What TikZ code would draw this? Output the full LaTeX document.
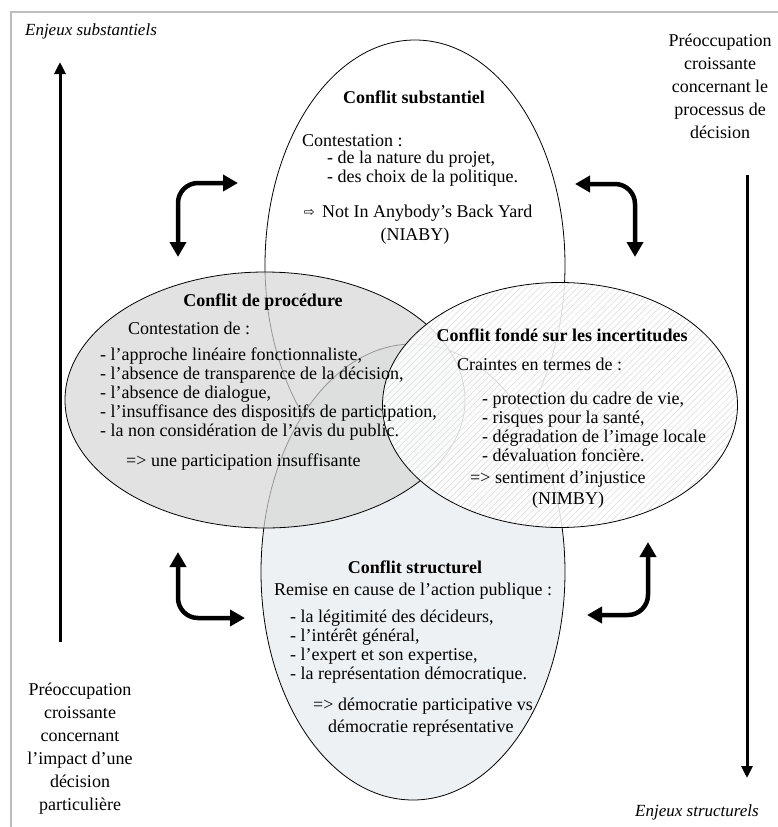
\documentclass[tikz,border=0pt]{standalone}
\usepackage{fontspec}
\setmainfont{Liberation Serif}
\newfontfamily\symbfont{DejaVu Sans}
\usepackage{xcolor}
\usepackage{tikz}
\usetikzlibrary{shapes.geometric, arrows.meta, positioning, patterns.meta}
\newcommand{\bodysize}{\fontsize{18pt}{19pt}\selectfont}
\definecolor{framegray}{HTML}{BDBDBD}
\definecolor{structblue}{HTML}{EEF1F4}
\tikzset{
    zone/.style={ellipse, draw, inner sep=0pt, line width=0.8pt},
    heading/.style={font=\bodysize\bfseries},
    textline/.style={anchor=west, inner sep=0pt, align=left},
    sidenote/.style={align=center, inner sep=0pt, font=\fontsize{18pt}{23pt}\selectfont},
    axislabel/.style={inner sep=0pt, font=\fontsize{17pt}{19pt}\selectfont\itshape},
    axisarrow/.style={-{Triangle[length=12pt, width=11pt]}, line width=3pt},
    linkarrow/.style={{Triangle[length=15pt, width=16pt]}-{Triangle[length=15pt, width=16pt]}, line width=4.5pt, rounded corners=20pt}
}

\begin{document}
\begin{tikzpicture}[x=1pt, y=-1pt, every node/.style={font=\bodysize}]
    \useasboundingbox (0,0) rectangle (778,827);
    \draw[framegray, line width=1.5pt] (11,827) |- (778,12);

    % the four conflicts
    \node (subst) [zone, fill=white, minimum width=300pt, minimum height=450pt] at (415,265) {};
    \node (struct) [zone, fill=structblue, minimum width=304pt, minimum height=456pt] at (413,572) {};
    \node (proc) [zone, fill=black!16, fill opacity=0.7, minimum width=400pt, minimum height=256pt] at (265,400) {};
    \node (incert) [zone, preaction={fill=white, fill opacity=0.85}, pattern={Lines[angle=45, distance=4.5pt, line width=0.5pt]}, pattern color=black!14, minimum width=355pt, minimum height=245pt] at (560,405) {};

    % axes
    \coordinate (substBot) at (60,642);
    \coordinate (substTop) at (60,62);
    \coordinate (structTop) at (747,175);
    \coordinate (structBot) at (747,778);
    \draw[axisarrow] (substBot) -- (substTop);
    \draw[axisarrow] (structTop) -- (structBot);

    % links between conflicts
    \coordinate (tlDown) at (178,257);
    \coordinate (tlRight) at (238,183);
    \coordinate (trLeft) at (575,184);
    \coordinate (trDown) at (635,257);
    \coordinate (blUp) at (178,552);
    \coordinate (blRight) at (245,618);
    \coordinate (brUp) at (648,542);
    \coordinate (brLeft) at (587,615);
    \draw[linkarrow] (tlDown) |- (tlRight);
    \draw[linkarrow] (trLeft) -| (trDown);
    \draw[linkarrow] (blUp) |- (blRight);
    \draw[linkarrow] (brUp) |- (brLeft);

    % side labels
    \node (substLabel) [axislabel] at (91,31) {Enjeux substantiels};
    \node (structLabel) [axislabel] at (697,812) {Enjeux structurels};
    \node (processNote) [sidenote] at (720,86) {Préoccupation\\croissante\\concernant le\\processus de\\décision};
    \node (impactNote) [sidenote] at (80,749) {Préoccupation\\croissante\\concernant\\l’impact d’une\\décision\\particulière};

    % conflit substantiel
    \node (substTitle) [heading] at (414,97) {Conflit substantiel};
    \node (substIntro) [textline] at (302,141) {Contestation :};
    \node (substList) [textline] at (327,169) {- de la nature du projet,\\- des choix de la politique.};
    \node (niaby) [textline] at (322,213) {Not In Anybody’s Back Yard};
    \node (niabyMark) [left=7pt of niaby, inner sep=0pt, font=\symbfont\fontsize{13pt}{13pt}\selectfont] {⇨};
    \node (niabyAbbr) at (415,236) {(NIABY)};

    % conflit de procedure
    \node (procTitle) [heading] at (263,302) {Conflit de procédure};
    \node (procIntro) [textline] at (128,328) {Contestation de :};
    \node (procList) [textline] at (100,394) {- l’approche linéaire fonctionnaliste,\\- l’absence de transparence de la décision,\\- l’absence de dialogue,\\- l’insuffisance des dispositifs de participation,\\- la non considération de l’avis du public.};
    \node (procEnd) [textline] at (126,462) {=> une participation insuffisante};

    % conflit fonde sur les incertitudes
    \node (incertTitle) [heading] at (562,335) {Conflit fondé sur les incertitudes};
    \node (incertIntro) [textline] at (457,364) {Craintes en termes de :};
    \node (incertList) [textline] at (482,427) {- protection du cadre de vie,\\- risques pour la santé,\\- dégradation de l’image locale\\- dévaluation foncière.};
    \node (incertEnd) [textline] at (470,479) {=> sentiment d’injustice};
    \node (nimby) at (568,500) {(NIMBY)};

    % conflit structurel
    \node (structTitle) [heading] at (415,567) {Conflit structurel};
    \node (structIntro) [textline] at (274,591) {Remise en cause de l’action publique :};
    \node (structList) [textline] at (290,647) {- la légitimité des décideurs,\\- l’intérêt général,\\- l’expert et son expertise,\\- la représentation démocratique.};
    \node (structEnd) [textline] at (313,706) {=> démocratie participative vs};
    \node (structEndB) [textline] at (328,728) {démocratie représentative};
\end{tikzpicture}
\end{document}
